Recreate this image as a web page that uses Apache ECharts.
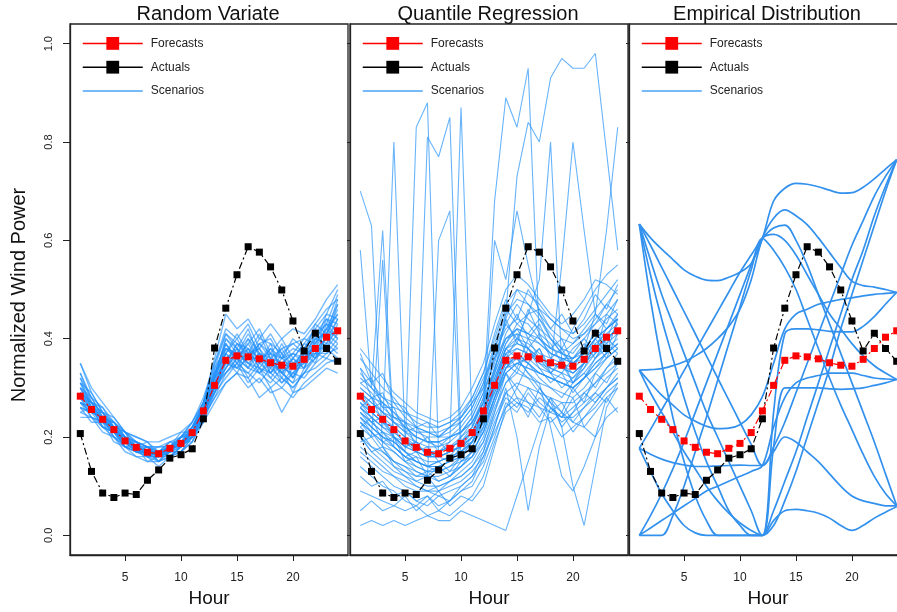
<!DOCTYPE html>
<html><head><meta charset="utf-8">
<script src="https://cdn.jsdelivr.net/npm/echarts@6/dist/echarts.min.js"></script>
<style>html,body{margin:0;padding:0;background:#fff}#c{width:897px;height:612px}</style>
</head><body><div id="c"></div>
<script>
const hours = [1,2,3,4,5,6,7,8,9,10,11,12,13,14,15,16,17,18,19,20,21,22,23,24];
const forecasts = [.283,.256,.236,.215,.192,.179,.169,.166,.177,.187,.209,.253,.305,.356,.365,.363,.359,.351,.346,.344,.358,.380,.403,.416];
const actuals = [.207,.130,.086,.077,.086,.083,.112,.133,.157,.164,.176,.237,.381,.462,.530,.587,.576,.546,.499,.436,.375,.411,.380,.354];
const yTicks = [0,0.2,0.4,0.6,0.8,1.0];
const xTicks = [5,10,15,20];
const panelTitles = ['Random Variate','Quantile Regression','Empirical Distribution'];
const yAxisTitle = 'Normalized Wind Power';
const xAxisTitle = 'Hour';

const scenariosRV = [
[.29,.26,.24,.22,.19,.18,.17,.16,.18,.19,.21,.25,.31,.36,.37,.36,.36,.35,.35,.34,.36,.38,.40,.42],
[.31,.27,.25,.21,.20,.17,.18,.15,.17,.20,.22,.27,.33,.39,.35,.40,.37,.33,.37,.32,.38,.36,.43,.40],
[.27,.25,.22,.22,.18,.19,.16,.17,.16,.18,.20,.24,.29,.34,.38,.34,.39,.36,.33,.36,.34,.40,.39,.44],
[.33,.28,.26,.23,.21,.19,.18,.18,.19,.20,.23,.28,.35,.42,.40,.43,.38,.41,.37,.39,.40,.43,.46,.48],
[.25,.24,.21,.20,.17,.16,.15,.15,.16,.17,.19,.23,.27,.31,.33,.30,.32,.29,.30,.28,.31,.33,.35,.36],
[.29,.27,.23,.23,.20,.17,.17,.17,.19,.18,.22,.26,.32,.37,.41,.37,.35,.38,.34,.33,.37,.35,.41,.39],
[.35,.29,.25,.24,.21,.20,.19,.17,.18,.20,.21,.26,.30,.38,.36,.39,.42,.37,.36,.40,.38,.42,.40,.47],
[.26,.23,.23,.19,.18,.17,.16,.15,.17,.17,.20,.24,.31,.33,.35,.33,.31,.34,.32,.30,.33,.37,.36,.39],
[.30,.26,.25,.22,.20,.18,.18,.16,.18,.19,.21,.26,.32,.40,.37,.35,.37,.34,.39,.35,.36,.39,.42,.45],
[.28,.25,.24,.21,.19,.19,.16,.17,.17,.19,.20,.25,.29,.35,.39,.38,.34,.32,.35,.37,.35,.41,.38,.43],
[.32,.28,.24,.22,.20,.18,.17,.18,.18,.20,.22,.26,.33,.37,.34,.36,.40,.39,.33,.31,.37,.38,.44,.41],
[.24,.24,.22,.20,.18,.16,.16,.14,.16,.17,.19,.24,.28,.33,.36,.32,.35,.33,.31,.33,.32,.35,.37,.38],
[.30,.27,.25,.23,.20,.19,.18,.17,.18,.19,.22,.27,.34,.41,.38,.42,.36,.37,.40,.36,.39,.42,.45,.50],
[.27,.26,.22,.21,.19,.17,.17,.16,.17,.18,.21,.24,.30,.36,.33,.37,.33,.31,.34,.29,.34,.36,.39,.37],
[.29,.25,.24,.22,.19,.18,.16,.17,.18,.18,.21,.25,.31,.35,.39,.36,.38,.35,.33,.35,.37,.40,.41,.46],
[.28,.26,.23,.21,.20,.18,.18,.16,.17,.19,.20,.25,.32,.38,.36,.34,.37,.36,.35,.32,.36,.38,.38,.41],
[.26,.25,.24,.20,.18,.18,.16,.16,.18,.18,.21,.26,.30,.34,.37,.40,.35,.38,.36,.34,.35,.39,.42,.40],
[.31,.26,.24,.23,.21,.17,.17,.17,.17,.20,.21,.25,.33,.37,.35,.37,.38,.33,.36,.38,.37,.37,.40,.44],
[.28,.27,.23,.22,.19,.18,.17,.15,.18,.18,.22,.26,.29,.36,.38,.35,.34,.37,.32,.36,.34,.40,.43,.42],
[.30,.25,.25,.21,.20,.19,.17,.17,.17,.19,.20,.24,.31,.39,.36,.38,.36,.34,.38,.34,.38,.36,.41,.45],
[.27,.26,.22,.21,.18,.18,.16,.16,.17,.18,.21,.25,.32,.35,.34,.33,.36,.32,.30,.33,.35,.37,.37,.40],
[.29,.27,.24,.22,.20,.18,.17,.17,.18,.19,.21,.26,.30,.37,.40,.36,.39,.37,.35,.37,.36,.41,.44,.43],
[.32,.26,.23,.22,.19,.17,.18,.16,.17,.20,.20,.25,.34,.38,.37,.41,.37,.35,.34,.36,.39,.38,.42,.47],
[.26,.25,.24,.20,.19,.18,.16,.17,.18,.18,.22,.24,.30,.33,.36,.34,.33,.36,.33,.31,.33,.36,.38,.36],
[.27,.24,.23,.21,.18,.17,.16,.16,.16,.18,.20,.24,.28,.31,.33,.32,.28,.30,.25,.29,.30,.32,.34,.33],
[.35,.30,.27,.24,.21,.20,.19,.19,.20,.21,.23,.27,.36,.45,.42,.44,.40,.43,.40,.42,.41,.44,.48,.51],
[.30,.28,.24,.23,.20,.19,.18,.17,.19,.19,.22,.26,.33,.39,.36,.39,.35,.39,.37,.34,.38,.41,.43,.49],
[.25,.26,.22,.21,.18,.17,.17,.15,.16,.18,.20,.23,.29,.32,.35,.31,.34,.30,.32,.30,.33,.34,.36,.35],
[.33,.27,.26,.22,.21,.18,.19,.16,.18,.21,.21,.27,.32,.40,.38,.36,.39,.40,.36,.37,.40,.39,.45,.44],
[.28,.24,.23,.22,.19,.18,.15,.16,.17,.17,.20,.24,.31,.34,.37,.35,.33,.35,.31,.34,.34,.38,.40,.38],
[.31,.29,.25,.22,.21,.19,.18,.18,.18,.20,.23,.27,.35,.41,.39,.37,.41,.36,.38,.39,.37,.43,.41,.48],
[.27,.25,.24,.21,.19,.17,.17,.16,.17,.19,.19,.25,.30,.36,.34,.38,.34,.33,.35,.32,.36,.37,.39,.42]
];

const scenariosQR = [
[.33,.30,.27,.25,.22,.20,.19,.19,.20,.22,.25,.30,.37,.42,.44,.43,.40,.38,.37,.36,.38,.41,.44,.46],
[.25,.22,.20,.18,.16,.14,.13,.13,.14,.15,.17,.21,.27,.33,.35,.34,.33,.32,.31,.30,.32,.35,.37,.39],
[.29,.27,.25,.24,.22,.21,.20,.20,.21,.23,.26,.31,.38,.45,.48,.47,.45,.42,.40,.39,.41,.44,.47,.50],
[.21,.18,.16,.14,.12,.11,.10,.10,.11,.12,.14,.18,.24,.29,.31,.30,.29,.28,.27,.27,.29,.31,.33,.35],
[.36,.33,.30,.28,.25,.23,.22,.22,.23,.25,.28,.33,.40,.47,.50,.49,.47,.44,.42,.41,.43,.46,.49,.52],
[.27,.24,.22,.21,.19,.18,.17,.16,.17,.18,.20,.24,.30,.36,.38,.37,.36,.35,.34,.33,.35,.38,.40,.42],
[.18,.16,.14,.12,.11,.10,.09,.09,.10,.11,.13,.16,.21,.26,.28,.27,.26,.25,.24,.24,.26,.28,.30,.32],
[.31,.29,.26,.24,.23,.21,.21,.20,.22,.24,.27,.32,.36,.40,.41,.40,.39,.37,.36,.36,.37,.40,.42,.44],
[.24,.21,.19,.17,.15,.13,.12,.12,.13,.14,.16,.19,.25,.31,.33,.32,.31,.30,.29,.28,.30,.33,.36,.38],
[.30,.28,.27,.25,.23,.22,.21,.20,.20,.21,.23,.27,.33,.39,.43,.45,.46,.44,.42,.40,.41,.43,.45,.48],
[.34,.28,.29,.24,.23,.18,.20,.17,.19,.21,.24,.29,.35,.44,.39,.46,.41,.39,.35,.38,.40,.37,.45,.43],
[.22,.24,.19,.20,.15,.16,.12,.14,.12,.15,.16,.22,.30,.37,.34,.40,.36,.33,.36,.31,.34,.39,.36,.41],
[.28,.25,.23,.22,.20,.17,.18,.15,.16,.19,.21,.26,.34,.41,.45,.40,.43,.38,.40,.35,.37,.42,.40,.45],
[.19,.20,.17,.15,.14,.12,.13,.11,.12,.14,.17,.21,.28,.33,.30,.35,.32,.30,.28,.31,.33,.30,.34,.37],
[.26,.23,.24,.20,.18,.19,.16,.17,.18,.17,.20,.25,.29,.34,.37,.35,.38,.34,.33,.36,.39,.36,.40,.38],
[.02,.03,.02,.03,.02,.03,.04,.03,.03,.05,.04,.03,.02,.01,.08,.15,.22,.28,.25,.30,.27,.33,.31,.35],
[.05,.07,.05,.06,.08,.05,.07,.09,.06,.08,.07,.10,.18,.26,.30,.27,.24,.28,.22,.25,.29,.27,.30,.33],
[.14,.12,.10,.09,.07,.06,.08,.05,.07,.09,.11,.16,.22,.30,.20,.05,.18,.26,.24,.28,.22,.25,.28,.30],
[.16,.14,.12,.10,.09,.07,.06,.08,.07,.10,.12,.17,.25,.33,.28,.24,.30,.27,.22,.10,.02,.14,.26,.30],
[.23,.21,.18,.17,.15,.14,.13,.14,.15,.16,.19,.23,.31,.38,.36,.33,.31,.22,.12,.09,.14,.20,.28,.25],
[.27,.25,.23,.20,.19,.17,.16,.17,.18,.20,.23,.28,.36,.44,.50,.47,.44,.41,.38,.42,.46,.50,.53,.55],
[.38,.35,.32,.29,.27,.25,.24,.23,.24,.26,.30,.35,.43,.50,.53,.51,.48,.45,.43,.45,.48,.52,.51,.49],
[.32,.30,.28,.26,.25,.24,.23,.22,.23,.24,.27,.30,.38,.43,.40,.38,.35,.33,.30,.32,.35,.38,.42,.44],
[.20,.17,.15,.13,.12,.10,.09,.10,.11,.13,.15,.19,.26,.31,.34,.32,.29,.26,.24,.26,.28,.31,.34,.36],
[.25,.23,.21,.19,.17,.15,.14,.15,.16,.17,.19,.22,.28,.34,.36,.33,.30,.27,.25,.23,.22,.20,.24,.26],
[.37,.31,.33,.27,.26,.22,.23,.20,.22,.24,.28,.33,.41,.48,.44,.50,.46,.42,.45,.41,.44,.49,.46,.51],
[.20,.17,.18,.14,.13,.11,.12,.09,.11,.12,.14,.17,.23,.28,.26,.30,.27,.25,.27,.23,.26,.29,.27,.31],
[.31,.32,.26,.26,.21,.22,.19,.19,.17,.20,.22,.28,.33,.39,.42,.38,.41,.36,.38,.34,.38,.41,.39,.43],
[.12,.10,.11,.08,.09,.07,.08,.06,.07,.09,.10,.14,.20,.27,.25,.29,.26,.23,.25,.21,.24,.26,.29,.31],
[.29,.26,.27,.23,.22,.20,.19,.18,.20,.21,.24,.29,.36,.43,.47,.44,.42,.40,.38,.37,.40,.43,.47,.45],
[.23,.20,.21,.18,.16,.17,.14,.15,.13,.16,.18,.23,.29,.35,.33,.38,.34,.31,.33,.29,.32,.36,.39,.37],
[.34,.31,.28,.27,.24,.22,.21,.21,.22,.23,.26,.31,.39,.46,.43,.41,.44,.40,.37,.39,.42,.45,.43,.48],
[.17,.15,.13,.12,.10,.09,.09,.08,.09,.10,.12,.15,.22,.29,.27,.25,.28,.26,.23,.25,.27,.29,.32,.34],
[.26,.28,.23,.22,.18,.19,.16,.16,.15,.18,.19,.25,.31,.38,.41,.36,.38,.33,.35,.31,.35,.40,.37,.44],
[.09,.08,.07,.06,.05,.06,.04,.05,.04,.06,.08,.12,.19,.25,.27,.26,.23,.24,.20,.22,.24,.27,.30,.32],
[.70,.63,.18,.15,.13,.12,.12,.11,.12,.14,.16,.20,.27,.33,.35,.36,.34,.33,.32,.31,.33,.36,.38,.40],
[.58,.30,.62,.20,.17,.15,.14,.14,.15,.16,.18,.22,.28,.34,.37,.35,.33,.32,.31,.30,.32,.35,.37,.39],
[.22,.20,.56,.18,.16,.15,.14,.13,.14,.16,.19,.24,.30,.35,.36,.35,.33,.32,.31,.30,.32,.34,.36,.38],
[.26,.24,.22,.80,.20,.18,.17,.17,.18,.19,.21,.26,.32,.38,.40,.39,.37,.36,.35,.34,.36,.39,.41,.43],
[.24,.22,.20,.19,.17,.83,.88,.16,.17,.18,.20,.25,.31,.37,.38,.37,.35,.34,.33,.32,.34,.37,.39,.41],
[.28,.26,.24,.22,.20,.19,.81,.77,.85,.19,.21,.25,.32,.38,.39,.38,.36,.35,.34,.33,.35,.38,.40,.42],
[.20,.18,.17,.15,.14,.13,.12,.60,.66,.15,.17,.21,.28,.34,.35,.34,.33,.32,.31,.30,.32,.34,.37,.39],
[.30,.28,.25,.23,.21,.19,.18,.18,.19,.87,.22,.27,.34,.40,.42,.41,.39,.37,.36,.35,.37,.40,.42,.45],
[.27,.25,.23,.21,.19,.18,.17,.17,.18,.19,.22,.27,.68,.89,.83,.95,.40,.37,.36,.35,.37,.40,.42,.44],
[.25,.23,.21,.20,.18,.17,.16,.16,.17,.18,.20,.25,.33,.45,.73,.84,.80,.93,.97,.95,.95,.98,.78,.58],
[.23,.21,.19,.18,.16,.15,.14,.14,.15,.17,.19,.23,.30,.36,.40,.45,.52,.80,.35,.33,.35,.37,.40,.42],
[.26,.24,.22,.20,.18,.17,.16,.16,.17,.18,.21,.25,.31,.37,.39,.38,.36,.34,.55,.80,.62,.45,.42,.44],
[.29,.27,.25,.23,.21,.20,.19,.19,.20,.21,.23,.27,.34,.40,.42,.41,.40,.38,.37,.36,.38,.45,.62,.83],
[.24,.22,.20,.19,.17,.16,.15,.15,.16,.17,.19,.24,.60,.52,.66,.55,.45,.40,.37,.35,.36,.38,.40,.42]
];

const scenariosED = [
[.633,.605,.582,.561,.540,.527,.519,.518,.525,.535,.553,.604,.680,.706,.716,.714,.709,.702,.696,.697,.708,.725,.745,.764],
[.336,.337,.339,.345,.353,.365,.380,.400,.425,.460,.520,.604,.645,.662,.650,.632,.605,.575,.545,.517,.508,.505,.500,.494],
[.177,.215,.255,.295,.335,.375,.415,.455,.495,.535,.570,.604,.625,.631,.600,.550,.490,.430,.370,.310,.250,.190,.125,.060],
[.000,.040,.085,.135,.190,.250,.310,.370,.430,.490,.550,.604,.612,.600,.570,.530,.490,.450,.420,.390,.365,.345,.330,.317],
[.000,.000,.000,.040,.100,.170,.240,.315,.390,.465,.540,.604,.580,.545,.500,.440,.380,.320,.265,.215,.165,.120,.085,.060],
[.633,.480,.350,.240,.150,.080,.030,.000,.000,.000,.000,.000,.250,.410,.420,.420,.418,.415,.414,.414,.425,.445,.470,.494],
[.633,.530,.440,.360,.280,.210,.150,.100,.050,.020,.000,.000,.180,.300,.300,.300,.300,.298,.297,.298,.300,.305,.310,.317],
[.633,.560,.490,.430,.370,.310,.250,.200,.150,.100,.050,.000,.050,.110,.170,.240,.310,.380,.450,.520,.580,.650,.710,.764],
[.633,.590,.545,.500,.455,.410,.365,.320,.275,.230,.185,.142,.170,.200,.190,.170,.150,.125,.100,.080,.070,.065,.060,.060],
[.336,.310,.285,.265,.245,.232,.222,.217,.218,.225,.245,.282,.350,.420,.450,.460,.470,.475,.480,.483,.487,.490,.492,.494],
[.336,.290,.250,.210,.170,.135,.100,.070,.045,.025,.010,.000,.020,.070,.130,.200,.270,.340,.420,.490,.560,.630,.700,.764],
[.177,.165,.155,.148,.143,.140,.140,.141,.142,.143,.142,.142,.180,.230,.290,.350,.410,.470,.530,.590,.640,.690,.730,.764],
[.177,.130,.085,.050,.020,.005,.000,.000,.000,.000,.000,.000,.030,.050,.053,.050,.045,.035,.020,.010,.020,.035,.047,.058],
[.000,.015,.030,.045,.060,.075,.090,.100,.110,.120,.130,.142,.220,.280,.310,.320,.325,.330,.330,.330,.325,.320,.318,.317]
];

const FONT = "'Liberation Sans', Arial, Helvetica, sans-serif";
const chart = echarts.init(document.getElementById('c'), null, {renderer: 'canvas'});
const gridLefts = [70, 350, 629];
const gridTop = 24, gridH = 531, gridW = 278;
const scenarioSets = [scenariosRV, scenariosQR, scenariosED];
const scenarioStyles = [
  {color: 'rgba(30,144,255,0.62)', width: 1.4, smooth: false},
  {color: 'rgba(40,148,250,0.7)', width: 1.1, smooth: false},
  {color: '#3391ee', width: 1.7, smooth: 0.35}
];
const pairs = arr => hours.map((h, k) => [h, arr[k]]);

const grid = [], xAxis = [], yAxis = [], series = [], legend = [], graphic = [];
for (let p = 0; p < 3; p++) {
  grid.push({left: gridLefts[p], top: gridTop, width: gridW, height: gridH, show: true,
    outerBoundsMode: 'none', containLabel: false,
    borderColor: '#222', borderWidth: 1.3, backgroundColor: 'transparent'});
  xAxis.push({type: 'value', gridIndex: p, min: 0.08, max: 24.92,
    axisLine: {show: true, onZero: false, lineStyle: {color: '#222', width: 1.3}},
    axisTick: {show: true, length: 6, customValues: xTicks, lineStyle: {color: '#222', width: 1}},
    axisLabel: {customValues: xTicks, fontSize: 12, color: '#222', margin: 17, fontFamily: FONT},
    splitLine: {show: false},
    name: xAxisTitle, nameLocation: 'middle', nameGap: 34,
    nameTextStyle: {fontSize: 19, color: '#111', fontFamily: FONT}});
  yAxis.push({type: 'value', gridIndex: p, min: -0.04, max: 1.04,
    axisLine: {show: true, onZero: false, lineStyle: {color: '#222', width: 1.3}},
    axisTick: {show: true, length: p === 0 ? 7 : 3, customValues: yTicks, lineStyle: {color: '#222', width: 1}},
    axisLabel: {show: p === 0, customValues: yTicks, rotate: 90, fontSize: 11, color: '#222', margin: 16,
      fontFamily: FONT, formatter: v => v.toFixed(1)},
    splitLine: {show: false}});
  scenarioSets[p].forEach(s => series.push({type: 'line', name: 'Scenarios', xAxisIndex: p, yAxisIndex: p,
    data: pairs(s), symbol: 'none', silent: true, z: 2, smooth: scenarioStyles[p].smooth,
    lineStyle: {color: scenarioStyles[p].color, width: scenarioStyles[p].width}}));
  series.push({type: 'line', name: 'Actuals', xAxisIndex: p, yAxisIndex: p, data: pairs(actuals),
    symbol: 'rect', symbolSize: 7, z: 4, itemStyle: {color: '#000'},
    lineStyle: {color: '#000', width: 1.2, type: [7, 3, 2, 3]}});
  series.push({type: 'line', name: 'Forecasts', xAxisIndex: p, yAxisIndex: p, data: pairs(forecasts),
    symbol: 'rect', symbolSize: 7, z: 5, itemStyle: {color: '#ff0000'},
    lineStyle: {color: '#ff0000', width: 1.2, type: [7, 3, 2, 3]}});
  legend.push({orient: 'vertical', left: gridLefts[p] + 7, top: 32, itemWidth: 60, itemHeight: 16, itemGap: 11,
    selectedMode: false, textStyle: {fontSize: 12, color: '#222', fontFamily: FONT, padding: [0, 0, 0, 3]},
    data: [
      {name: 'Forecasts', lineStyle: {type: 'solid', width: 1.5, color: '#ff0000'}, itemStyle: {color: '#ff0000'}},
      {name: 'Actuals', lineStyle: {type: 'solid', width: 1.5, color: '#000'}, itemStyle: {color: '#000'}},
      {name: 'Scenarios', lineStyle: {type: 'solid', width: 1.5, color: '#4aa3f5', opacity: 1},
        itemStyle: {color: 'rgba(0,0,0,0)', borderColor: 'rgba(0,0,0,0)', borderWidth: 0, opacity: 0}}
    ]});
  graphic.push({type: 'text', x: gridLefts[p] + gridW / 2 - 1, y: 14, silent: true,
    style: {text: panelTitles[p], fontSize: 20, fontFamily: FONT, fill: '#111',
      align: 'center', verticalAlign: 'middle', textAlign: 'center', textVerticalAlign: 'middle'}});
}
graphic.push({type: 'text', x: 19, y: 295, rotation: Math.PI / 2, silent: true,
  style: {text: yAxisTitle, fontSize: 20, fontFamily: FONT, fill: '#111',
    align: 'center', verticalAlign: 'middle', textAlign: 'center', textVerticalAlign: 'middle'}});

chart.setOption({animation: false, backgroundColor: '#fff', grid, xAxis, yAxis, series, legend, graphic});
</script></body></html>
